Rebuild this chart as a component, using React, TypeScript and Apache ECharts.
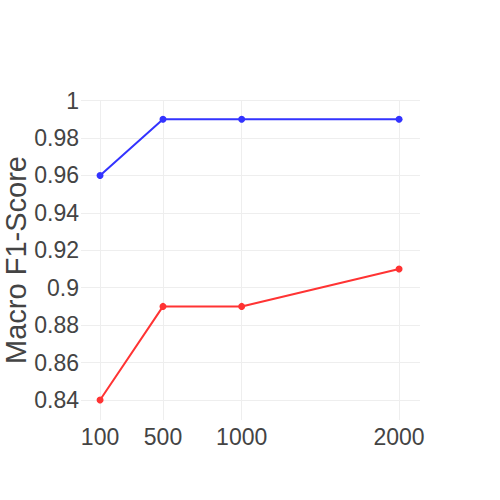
import React, { useEffect, useRef } from "react";
import * as echarts from "echarts";

const xValues = [100, 500, 1000, 2000];
const xTicks = [100, 500, 1000, 2000];
const yTicks = [0.84, 0.86, 0.88, 0.9, 0.92, 0.94, 0.96, 0.98, 1];
const blueSeries = [0.96, 0.99, 0.99, 0.99];
const redSeries = [0.84, 0.89, 0.89, 0.91];
const yTitle = "Macro F1-Score";

export default function App() {
  const ref = useRef<HTMLDivElement>(null);
  useEffect(() => {
    if (!ref.current) return;
    const chart = echarts.init(ref.current, null, { renderer: "svg" });
    const font = "Liberation Sans, Arial, sans-serif";
    chart.setOption({
      animation: false,
      backgroundColor: "#fff",
      grid: { left: 81, right: 80, top: 100, bottom: 80, containLabel: false, outerBoundsMode: "none" },
      xAxis: {
        type: "value",
        min: -21,
        max: 2133,
        axisLine: { show: false },
        axisTick: { show: false, customValues: xTicks },
        axisLabel: {
          customValues: xTicks,
          fontSize: 23,
          color: "#444",
          fontFamily: font,
          margin: 5,
          formatter: (v: number) => String(v),
        },
        splitLine: { show: true, lineStyle: { color: "#eee", width: 1 } },
      },
      yAxis: {
        type: "value",
        min: 0.8293,
        max: 1.0003,
        name: yTitle,
        nameLocation: "middle",
        nameGap: 51,
        nameMoveOverlap: false,
        nameTextStyle: { fontSize: 29, color: "#444", fontFamily: font },
        axisLine: { show: false },
        axisTick: { show: false, customValues: yTicks },
        axisLabel: {
          customValues: yTicks,
          fontSize: 23,
          color: "#444",
          fontFamily: font,
          margin: 2,
          formatter: (v: number) => String(+v.toFixed(2)),
        },
        splitLine: { show: true, lineStyle: { color: "#eee", width: 1 } },
      },
      series: [
        {
          type: "line",
          data: xValues.map((x, i) => [x, blueSeries[i]]),
          symbol: "circle",
          symbolSize: 7,
          itemStyle: { color: "#3333ff" },
          lineStyle: { color: "#3333ff", width: 2 },
        },
        {
          type: "line",
          data: xValues.map((x, i) => [x, redSeries[i]]),
          symbol: "circle",
          symbolSize: 7,
          itemStyle: { color: "#ff3333" },
          lineStyle: { color: "#ff3333", width: 2 },
        },
      ],
    });
    return () => chart.dispose();
  }, []);
  return <div ref={ref} style={{ width: 500, height: 500, position: "absolute", left: 0, top: 0 }} />;
}
